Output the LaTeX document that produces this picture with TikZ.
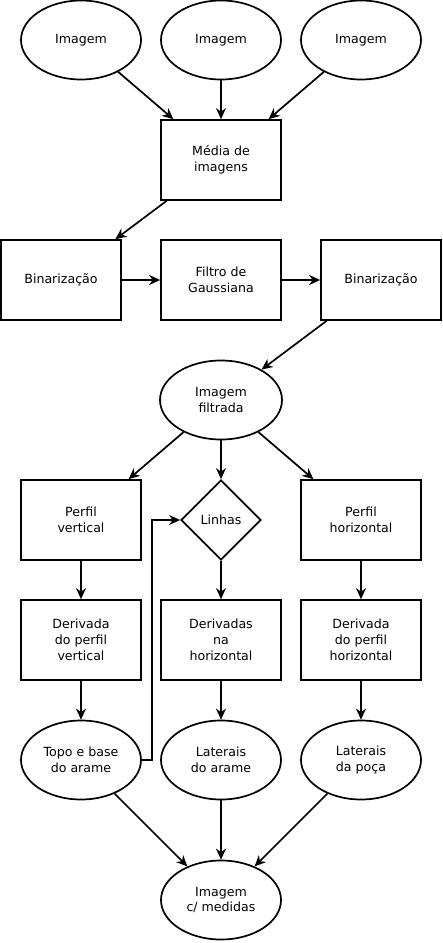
\documentclass[tikz,border=0pt]{standalone}
\usepackage{fontspec}
\setmainfont{DejaVu Sans}
\usetikzlibrary{shapes.geometric,arrows.meta}

\begin{document}
\begin{tikzpicture}[x=1pt,y=-1pt,
  every node/.style={font=\fontsize{12.6}{15.8}\selectfont,align=center,draw,line width=1.7pt,inner sep=0pt},
  caixa/.style={rectangle,minimum width=120pt,minimum height=80pt},
  elipse/.style={ellipse,minimum width=120pt,minimum height=79pt},
  decisao/.style={diamond,minimum width=80pt,minimum height=80pt},
  seta/.style={line width=1.7pt,-{Stealth[length=11pt,width=10pt,inset=3.5pt]}}]
\useasboundingbox (0,0) rectangle (443,943);
% entradas
\node[elipse] (img1) at (81,40) {Imagem};
\node[elipse] (img2) at (221,40) {Imagem};
\node[elipse] (img3) at (361,40) {Imagem};
\node[caixa] (media) at (221,160) {Média de\\imagens};
% filtragem
\node[caixa] (bin1) at (61,280) {Binarização};
\node[caixa] (filtro) at (221,280) {Filtro de\\Gaussiana};
\node[caixa] (bin2) at (381,280) {Binarização};
\node[elipse,minimum width=122pt] (filt) at (221,400) {Imagem\\filtrada};
% perfis
\node[caixa] (pv) at (81,520) {Perfil\\vertical};
\node[decisao] (linhas) at (221,520) {Linhas};
\node[caixa] (ph) at (361,520) {Perfil\\horizontal};
\node[caixa] (dv) at (81,640) {Derivada\\do perfil\\vertical};
\node[caixa] (dn) at (221,640) {Derivadas\\na\\horizontal};
\node[caixa] (dh) at (361,640) {Derivada\\do perfil\\horizontal};
\node[elipse] (topo) at (81,760) {Topo e base\\do arame};
\node[elipse] (lat) at (221,760) {Laterais\\do arame};
\node[elipse] (poca) at (361,760) {Laterais\\da poça};
\node[elipse] (fim) at (221,900) {Imagem\\c/ medidas};
% ligacoes
\draw[seta] (img1) -- (media);
\draw[seta] (img2) -- (media);
\draw[seta] (img3) -- (media);
\draw[seta] (media) -- (bin1);
\draw[seta] (bin1) -- (filtro);
\draw[seta] (filtro) -- (bin2);
\draw[seta] (bin2) -- (filt);
\draw[seta] (filt) -- (pv);
\draw[seta] (filt) -- (linhas);
\draw[seta] (filt) -- (ph);
\draw[seta] (pv) -- (dv);
\draw[seta] (linhas) -- (dn);
\draw[seta] (ph) -- (dh);
\draw[seta] (dv) -- (topo);
\draw[seta] (dn) -- (lat);
\draw[seta] (dh) -- (poca);
\draw[seta] (topo.east) -- ++(10,0) |- (linhas.west);
\draw[seta] (topo) -- (fim);
\draw[seta] (lat) -- (fim);
\draw[seta] (poca) -- (fim);
\end{tikzpicture}
\end{document}
